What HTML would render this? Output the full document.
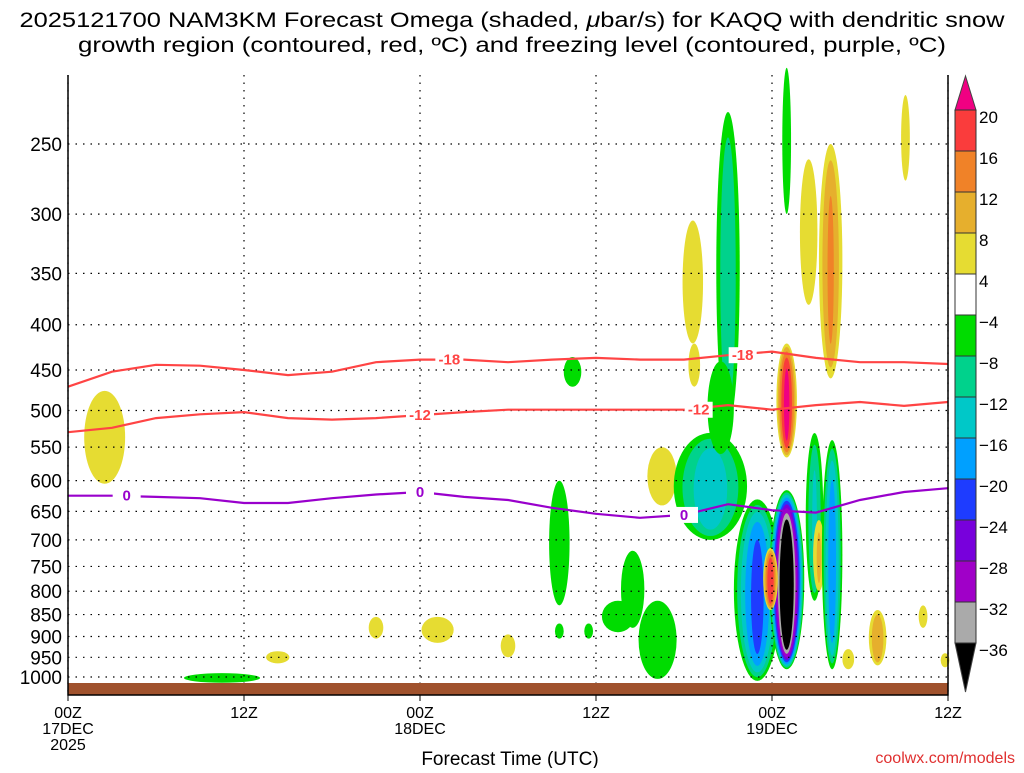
<!DOCTYPE html>
<html><head><meta charset="utf-8"><style>
body{margin:0;background:#fff;width:1024px;height:768px;overflow:hidden}
svg text{font-family:"Liberation Sans",sans-serif}
</style></head><body>
<svg id="c" width="1024" height="768" xmlns="http://www.w3.org/2000/svg">
<text x="512" y="27" font-size="21" text-anchor="middle" textLength="985" lengthAdjust="spacingAndGlyphs">2025121700 NAM3KM Forecast Omega (shaded, <tspan font-style="italic">μ</tspan>bar/s) for KAQQ with dendritic snow</text>
<text x="512" y="52" font-size="21" text-anchor="middle" textLength="868" lengthAdjust="spacingAndGlyphs">growth region (contoured, red, ºC) and freezing level (contoured, purple, ºC)</text>
<g id="shade"></g>
<g id="grid"></g>
<rect x="68" y="683" width="880" height="12" fill="#a0522d"/>
<g id="lines"></g>
<g id="axes"></g>
<g id="cbar"></g>
<text x="510" y="765" font-size="19" text-anchor="middle">Forecast Time (UTC)</text>
<text x="1015" y="763" font-size="16" text-anchor="end" fill="#e03030">coolwx.com/models</text>
</svg>
<script>
const pressureTicks=[250,300,350,400,450,500,550,600,650,700,750,800,850,900,950,1000];
const timeTicks=[0,12,24,36,48,60];
const timeLabels=[["00Z","17DEC","2025"],["12Z"],["00Z","18DEC"],["12Z"],["00Z","19DEC"],["12Z"]];
const lineTimes=[0,3,6,9,12,15,18,21,24,27,30,33,36,39,42,45,48,51,54,57,60];
const minus18=[470,452,444,445,450,456,452,441,438,438,441,438,436,438,438,433,429,436,441,441,443];
const minus12=[529,523,510,505,502,510,512,510,506,502,499,499,499,499,499,493,499,493,489,494,489];
const freezing=[624,624,626,628,636,636,628,622,618,626,631,644,654,661,656,638,648,652,631,618,612];
// omega blobs: time(h), top p, bottom p, half-width(h), peak value
const blobT=[2.5,10.5,14.3,21,25.2,30,34.4,33.5,33.5,35.5,40.5,42.6,38.5,43.8,45,47,49,49,47.9,49,50.9,50.5,52,51.2,52.1,53.2,55.2,57.1,58.3,59.8,37.5,40.2,44.5,42.7];
const blobTop=[475,990,935,855,855,895,435,600,870,870,550,305,720,530,230,630,615,420,715,205,530,260,250,665,540,930,840,220,830,940,820,820,440,420];
const blobBot=[605,1015,965,905,915,950,470,830,905,905,640,420,880,700,520,1010,980,565,840,300,820,380,460,800,980,980,970,275,880,975,890,1005,560,470];
const blobW=[1.4,2.6,0.8,0.5,1.1,0.5,0.6,0.7,0.3,0.3,1.0,0.7,0.8,2.5,0.8,1.6,1.2,0.7,0.5,0.3,0.6,0.6,0.8,0.4,0.7,0.4,0.6,0.3,0.3,0.3,1.1,1.3,0.9,0.4];
const blobV=[6,-6,5,5,6,5,-6,-6,-6,-6,6,7,-6,-15,-12,-22,-45,22,20,-6,-13,5,13,9,-19,6,12,5,5,5,-6,-7,-8,5];
const cbLevels=[20,16,12,8,4,-4,-8,-12,-16,-20,-24,-28,-32,-36];
const cbColors=["#f00082","#fa3c3c","#f08228","#e6af2d","#e6dc32","#ffffff","#00dc00","#00d28c","#00c8c8","#00a0ff","#1e3cff","#7800dc","#a000c8","#aaaaaa","#000000"];

const X0=68,X1=948,NS="http://www.w3.org/2000/svg";
const x=t=>X0+t*(X1-X0)/60;
const y=p=>144+(Math.log(p)-Math.log(250))*384.5;
function el(tag,at,parent){const e=document.createElementNS(NS,tag);for(const k in at)e.setAttribute(k,at[k]);document.getElementById(parent).appendChild(e);return e;}
function colorFor(v){
  if(v>=20)return cbColors[0];if(v>=16)return cbColors[1];if(v>=12)return cbColors[2];if(v>=8)return cbColors[3];if(v>=4)return cbColors[4];
  if(v>-4)return cbColors[5];if(v>-8)return cbColors[6];if(v>-12)return cbColors[7];if(v>-16)return cbColors[8];if(v>-20)return cbColors[9];
  if(v>-24)return cbColors[10];if(v>-28)return cbColors[11];if(v>-32)return cbColors[12];if(v>-36)return cbColors[13];return cbColors[14];
}
// shading
blobT.forEach((t,i)=>{
  const v=blobV[i],s=Math.sign(v),a=Math.abs(v);
  const cx=x(t),yt=y(blobTop[i]),yb=y(blobBot[i]),cy=(yt+yb)/2,ry=(yb-yt)/2,rx=blobW[i]*(X1-X0)/60;
  for(let th=4;th<a;th+=4){
    const f=Math.pow((a-th)/(a-4+0.01),0.6);
    const fy=Math.pow(f,0.35);
    const e=el('ellipse',{cx:cx,cy:cy+ry*(1-fy)*0.2,rx:Math.max(rx*f,0.8),ry:Math.max(ry*fy,1),fill:colorFor(s*(th+0.5))},'shade');
    
    
  }
});
// grid
pressureTicks.forEach(p=>{
  const g=el('line',{x1:X0,x2:X1,y1:y(p),y2:y(p),stroke:'#000','stroke-width':1.2,'stroke-dasharray':'1.5 6'},'grid');
  
  
  const l=el('text',{x:62,y:y(p)+7,'font-size':19,'text-anchor':'end'},'axes');l.textContent=p;
  
  
});
timeTicks.forEach((t,i)=>{
  const g=el('line',{x1:x(t),x2:x(t),y1:75,y2:695,stroke:'#000','stroke-width':1.2,'stroke-dasharray':'1.5 6'},'grid');
  
  
  el('line',{x1:x(t),x2:x(t),y1:695,y2:701,stroke:'#000'},'axes');
  timeLabels[i].forEach((s,j)=>{
    const l=el('text',{x:x(t),y:718+j*16,'font-size':16,'text-anchor':'middle'},'axes');l.textContent=s;
    
    
  });
});
const fr=el('path',{d:`M${X0} 75 V695 H${X1} V75`,fill:'none',stroke:'#000','stroke-width':1.5},'axes');


// contour lines
function drawLine(arr,color,name,labels,txt){
  const d=arr.map((p,i)=>(i?'L':'M')+x(lineTimes[i]).toFixed(1)+' '+y(p).toFixed(1)).join(' ');
  const pth=el('path',{d:d,fill:'none',stroke:color,'stroke-width':2.2},'lines');
  
  
  labels.forEach(t=>{
    const k=Math.round(t/3),p=arr[k];
    el('rect',{x:x(t)-14,y:y(p)-8,width:28,height:16,fill:'#fff'},'lines');
    const l=el('text',{x:x(t),y:y(p)+5,'font-size':15,'font-weight':'bold','text-anchor':'middle',fill:color},'lines');l.textContent=txt;
    
    
  });
}
drawLine(minus18,'#ff4444','minus18-contour',[26,46],'-18');
drawLine(minus12,'#ff4444','minus12-contour',[24,43],'-12');
drawLine(freezing,'#9900cc','freezing-level-contour',[4,24,42],'0');
// colorbar
const cbx=955,cbw=21,cbTop=110,h=41;
const nb=cbLevels.length-1;
const tri1=el('polygon',{points:`${cbx},${cbTop} ${cbx+cbw},${cbTop} ${cbx+cbw/2},76`,fill:cbColors[0],stroke:'#444'},'cbar');


const tri2=el('polygon',{points:`${cbx},${cbTop+nb*h} ${cbx+cbw},${cbTop+nb*h} ${cbx+cbw/2},692`,fill:'#000',stroke:'#444'},'cbar');


cbLevels.forEach((v,i)=>{
  if(i<nb){
    const r=el('rect',{x:cbx,y:cbTop+i*h,width:cbw,height:h,fill:cbColors[i+1],stroke:'#333','stroke-width':1},'cbar');
    
    
  }
  const l=el('text',{x:cbx+cbw+3,y:cbTop+i*h+13,'font-size':17},'cbar');l.textContent=(v<0?'−':'')+Math.abs(v);
  
  
});
</script>
</body></html>
